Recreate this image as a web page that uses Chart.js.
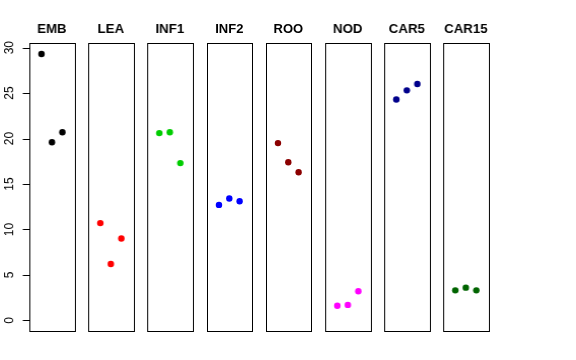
<!DOCTYPE html>
<html>
<head>
<meta charset="utf-8">
<script src="https://cdn.jsdelivr.net/npm/chart.js@4/dist/chart.umd.min.js"></script>
<style>
  body { margin: 0; background: #fff; }
  #wrap { position: relative; width: 576px; height: 360px; overflow: hidden; }
  .panel { position: absolute; top: 0; height: 360px; }
</style>
</head>
<body>
<div id="wrap"></div>
<script>
// tissue names and the three replicate values per tissue
var tissues = ["EMB", "LEA", "INF1", "INF2", "ROO", "NOD", "CAR5", "CAR15"];
var emb = [29.3, 19.6, 20.7];
var lea = [10.7, 6.2, 9.0];
var inf1 = [20.6, 20.7, 17.3];
var inf2 = [12.7, 13.4, 13.1];
var roo = [19.5, 17.4, 16.3];
var nod = [1.6, 1.7, 3.2];
var car5 = [24.3, 25.3, 26.0];
var car15 = [3.3, 3.6, 3.3];
var replicates = [1, 2, 3];
var yTicks = [0, 5, 10, 15, 20, 25, 30];

var values = [emb, lea, inf1, inf2, roo, nod, car5, car15];
var colors = ["#000000", "#FF0000", "#00CD00", "#0000FF", "#8B0000", "#FF00FF", "#00008B", "#006400"];

var boxPlugin = {
  id: "box",
  afterDraw: function(chart) {
    var a = chart.chartArea;
    var ctx = chart.ctx;
    ctx.save();
    ctx.strokeStyle = "#000";
    ctx.lineWidth = 1;
    ctx.strokeRect(Math.round(a.left) + 0.5, Math.round(a.top) + 0.5,
      Math.round(a.right - a.left), Math.round(a.bottom - a.top));
    ctx.restore();
  }
};

var axisPlugin = {
  id: "leftaxis",
  afterDraw: function(chart) {
    var y = chart.scales.y;
    var ctx = chart.ctx;
    var x0 = Math.round(chart.chartArea.left) + 0.5;
    ctx.save();
    ctx.strokeStyle = "#000";
    ctx.lineWidth = 1;
    ctx.beginPath();
    ctx.moveTo(x0, Math.round(y.getPixelForValue(yTicks[0])) + 0.5);
    ctx.lineTo(x0, Math.round(y.getPixelForValue(yTicks[yTicks.length - 1])) + 0.5);
    yTicks.forEach(function(t) {
      var py = Math.round(y.getPixelForValue(t)) + 0.5;
      ctx.moveTo(x0, py);
      ctx.lineTo(x0 - 7, py);
    });
    ctx.stroke();
    ctx.fillStyle = "#000";
    ctx.font = "12px 'Liberation Sans', Arial, sans-serif";
    ctx.textAlign = "center";
    ctx.textBaseline = "middle";
    yTicks.forEach(function(t) {
      var py = y.getPixelForValue(t);
      ctx.save();
      ctx.translate(x0 - 20, py);
      ctx.rotate(-Math.PI / 2);
      ctx.fillText(String(t), 0, 0);
      ctx.restore();
    });
    ctx.restore();
  }
};

var wrap = document.getElementById("wrap");
var panelW = 44.6;
var step = 59.2;
var side = 8;

tissues.forEach(function(name, i) {
  var left = 29 + i * step;
  var padL = i === 0 ? 29 : side;
  var div = document.createElement("div");
  div.className = "panel";
  div.style.left = (left - padL) + "px";
  div.style.width = (panelW + padL + side) + "px";
  var cv = document.createElement("canvas");
  div.appendChild(cv);
  wrap.appendChild(div);

  var pts = replicates.map(function(r, k) { return { x: r, y: values[i][k] }; });

  new Chart(cv, {
    type: "scatter",
    data: {
      datasets: [{
        data: pts,
        backgroundColor: colors[i],
        borderWidth: 0,
        pointRadius: 3.2,
        pointHoverRadius: 3.2
      }]
    },
    options: {
      responsive: true,
      maintainAspectRatio: false,
      animation: false,
      events: [],
      layout: { padding: { left: padL, right: side, top: 0, bottom: 29 } },
      scales: {
        x: { type: "linear", min: -0.16, max: 4.16, display: false },
        y: { type: "linear", min: -1.17, max: 30.51, display: false }
      },
      plugins: {
        legend: { display: false },
        tooltip: { enabled: false },
        title: {
          display: true,
          text: name,
          color: "#000",
          font: { family: "'Liberation Sans', Arial, sans-serif", size: 13, weight: "bold", lineHeight: 1.2 },
          padding: { top: 22, bottom: 5.4 }
        }
      }
    },
    plugins: i === 0 ? [boxPlugin, axisPlugin] : [boxPlugin]
  });
});
</script>
</body>
</html>
